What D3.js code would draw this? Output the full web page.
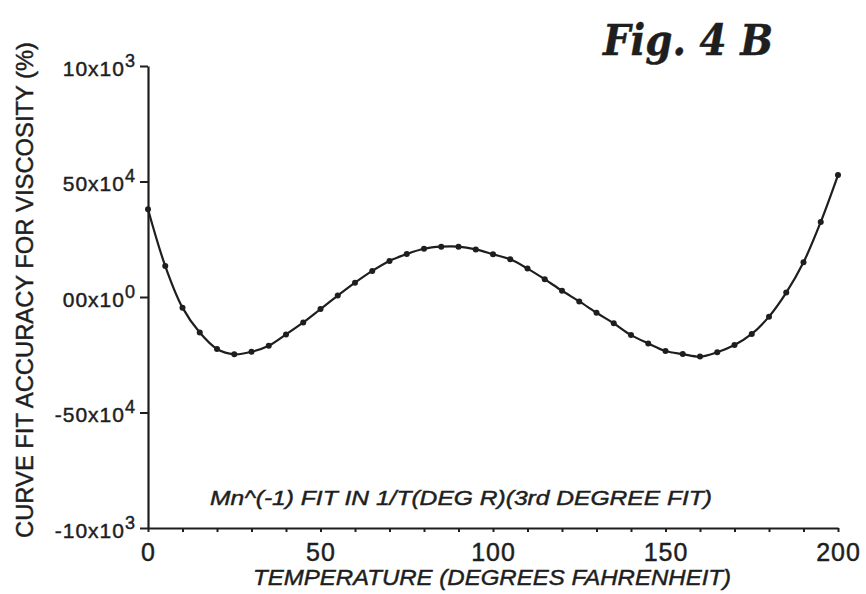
<!DOCTYPE html>
<html>
<head>
<meta charset="utf-8">
<script src="https://cdn.jsdelivr.net/npm/d3@7"></script>
<style>
  html, body { margin: 0; padding: 0; background: #fff; }
  svg { display: block; }
  text {
    fill: #1e1e1e;
    stroke: #1e1e1e;
    stroke-width: 0.45px;
    font-family: "Liberation Sans", "DejaVu Sans", sans-serif;
  }
</style>
</head>
<body>
<svg id="chart" width="866" height="594"></svg>
<script>
// Temperature (°F) at which each fit residual is plotted
const temperatures = [
  0, 5, 10, 15, 20, 25, 30, 35, 40, 45, 50, 55, 60, 65, 70, 75, 80, 85, 90, 95, 100,
  105, 110, 115, 120, 125, 130, 135, 140, 145, 150, 155, 160, 165, 170, 175, 180,
  185, 190, 195, 200
];
// Curve-fit accuracy for viscosity, in units of 10^-3 %
const accuracy = [
  3.80, 1.34, -0.46, -1.54, -2.25, -2.48, -2.37, -2.11, -1.62, -1.10, -0.52, 0.06,
  0.62, 1.13, 1.56, 1.86, 2.09, 2.18, 2.18, 2.06, 1.85,
  1.63, 1.23, 0.77, 0.27, -0.19, -0.68, -1.14, -1.65, -2.01, -2.34, -2.47, -2.58,
  -2.39, -2.08, -1.60, -0.85, 0.19, 1.50, 3.25, 5.28
];

// Axis ticks and their printed labels
const xTicks = d3.range(0, 201, 10);
const xTickLabels = [0, 50, 100, 150, 200];
const yTicks = [10, 5, 0, -5, -10];
const yTickMantissa = ["10x10", "50x10", "00x10", "-50x10", "-10x10"];
const yTickExponent = ["3", "4", "0", "4", "3"];

const titleText = "Fig. 4 B";
const xTitle = "TEMPERATURE (DEGREES FAHRENHEIT)";
const yTitle = "CURVE FIT ACCURACY FOR VISCOSITY (%)";
const noteText = "Mn^(-1) FIT IN 1/T(DEG R)(3rd DEGREE FIT)";

const ink = "#1e1e1e";
const svg = d3.select("#chart");

const x = d3.scaleLinear().domain([0, 200]).range([148, 838]);
const y = d3.scaleLinear().domain([-10, 10]).range([528, 66]);

// X axis: ticks every 10 degrees, labels every 50
const xAxis = svg.append("g")
  .attr("transform", `translate(0,${y(-10)})`)
  .call(d3.axisBottom(x)
    .tickValues(xTicks)
    .tickSize(4)
    .tickPadding(11)
    .tickSizeOuter(0)
    .tickFormat(d => xTickLabels.includes(d) ? d : ""));
xAxis.select(".domain").attr("stroke", ink).attr("stroke-width", 2.2);
xAxis.selectAll(".tick line").attr("stroke", ink).attr("stroke-width", 2);
xAxis.selectAll(".tick text")
  .attr("fill", ink)
  .style("font-size", "25px")
  .style("letter-spacing", "1px")
  .style("font-family", "'Liberation Sans', sans-serif");

// Y axis with "mantissa x 10^exponent" labels
const yAxis = svg.append("g")
  .attr("transform", `translate(${x(0)},0)`)
  .call(d3.axisLeft(y)
    .tickValues(yTicks)
    .tickSize(8)
    .tickPadding(4)
    .tickSizeOuter(0)
    .tickFormat(""));
yAxis.select(".domain").attr("stroke", ink).attr("stroke-width", 2.2);
yAxis.selectAll(".tick line").attr("stroke", ink).attr("stroke-width", 2);
yAxis.selectAll(".tick text").each(function (d) {
  const i = yTicks.indexOf(d);
  const t = d3.select(this)
    .attr("fill", ink)
    .attr("dy", "0.45em")
    .style("font-size", "21px")
    .style("letter-spacing", "1px")
    .style("font-family", "'Liberation Sans', sans-serif");
  t.append("tspan").text(yTickMantissa[i]);
  t.append("tspan")
    .attr("dy", "-0.5em")
    .style("font-size", "18px")
    .text(yTickExponent[i]);
});

// Fitted curve and its sample points
const line = d3.line()
  .x((d, i) => x(temperatures[i]))
  .y(d => y(d))
  .curve(d3.curveCatmullRom.alpha(0.5));

svg.append("path")
  .datum(accuracy)
  .attr("d", line)
  .attr("fill", "none")
  .attr("stroke", ink)
  .attr("stroke-width", 2.2);

svg.append("g")
  .selectAll("circle")
  .data(accuracy)
  .join("circle")
  .attr("cx", (d, i) => x(temperatures[i]))
  .attr("cy", d => y(d))
  .attr("r", 3)
  .attr("fill", ink);

// Axis titles
svg.append("text")
  .attr("x", 492)
  .attr("y", 585)
  .attr("text-anchor", "middle")
  .attr("textLength", 478)
  .attr("lengthAdjust", "spacingAndGlyphs")
  .style("font-size", "22px")
  .style("font-style", "italic")
  .text(xTitle);

svg.append("text")
  .attr("transform", "translate(33,290) rotate(-90)")
  .attr("text-anchor", "middle")
  .attr("textLength", 496)
  .attr("lengthAdjust", "spacingAndGlyphs")
  .style("font-size", "24px")
  .text(yTitle);

// Fit description inside the plot
svg.append("text")
  .attr("x", 210)
  .attr("y", 505)
  .attr("textLength", 502)
  .attr("lengthAdjust", "spacingAndGlyphs")
  .style("font-size", "20px")
  .style("font-style", "italic")
  .text(noteText);

// Figure title
svg.append("text")
  .attr("x", 603)
  .attr("y", 55)
  .attr("textLength", 170)
  .attr("lengthAdjust", "spacingAndGlyphs")
  .style("font-family", "'DejaVu Serif', serif")
  .style("font-weight", "bold")
  .style("font-style", "italic")
  .style("font-size", "42px")
  .text(titleText);
</script>
</body>
</html>
